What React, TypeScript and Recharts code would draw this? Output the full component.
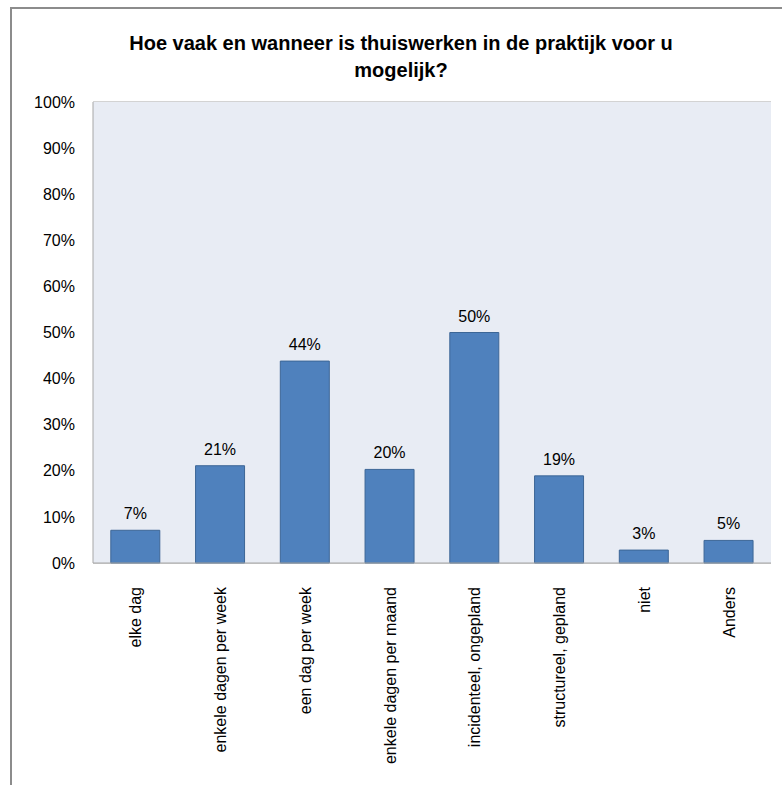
import React from "react";
import { BarChart, Bar, XAxis, YAxis, CartesianGrid, LabelList } from "recharts";

const categories = [
  "elke dag",
  "enkele dagen per week",
  "een dag per week",
  "enkele dagen per maand",
  "incidenteel, ongepland",
  "structureel, gepland",
  "niet",
  "Anders",
];
const percentages = [7.1, 21.1, 43.8, 20.3, 50, 18.9, 2.8, 4.9];
const yTicks = [0, 10, 20, 30, 40, 50, 60, 70, 80, 90, 100];
const titleLines = ["Hoe vaak en wanneer is thuiswerken in de praktijk voor u", "mogelijk?"];

const chartData = categories.map((name, i) => ({ name, value: percentages[i] }));

const FONT = "'Liberation Sans', Arial, sans-serif";

function CategoryTick(props: any) {
  const { x, y, payload } = props;
  return (
    <g transform={`translate(${x},${y})`}>
      <text
        transform="rotate(-90)"
        x={-16}
        y={0}
        dy={6}
        textAnchor="end"
        fontSize={16}
        fontFamily={FONT}
        fill="#000"
      >
        {payload.value}
      </text>
    </g>
  );
}

export default function App() {
  return (
    <div style={{ position: "absolute", left: 0, top: 0, width: 782, height: 785, overflow: "hidden", background: "#fff" }}>
      <div
        style={{
          position: "absolute",
          left: 10,
          top: 7,
          width: 800,
          height: 800,
          borderLeft: "2px solid #8c8c8c",
          borderTop: "2px solid #8c8c8c",
        }}
      />
      <div
        style={{
          position: "absolute",
          left: 10,
          top: 30,
          width: 782,
          textAlign: "center",
          fontFamily: FONT,
          fontWeight: "bold",
          fontSize: 20,
          lineHeight: "27px",
          color: "#000",
        }}
      >
        {titleLines.map((t) => (
          <div key={t}>{t}</div>
        ))}
      </div>
      <div style={{ position: "absolute", left: 0, top: 0 }}>
        <BarChart
          width={782}
          height={785}
          data={chartData}
          margin={{ top: 102, right: 11, left: 33, bottom: 22 }}
          barCategoryGap="21%"
        >
          <rect x={93} y={102} width={678} height={461} fill="#e8ecf4" />
          <CartesianGrid vertical={false} stroke="#a6a6a6" horizontalValues={yTicks} />
          <XAxis
            dataKey="name"
            interval={0}
            height={200}
            tick={<CategoryTick />}
            tickLine={false}
            axisLine={{ stroke: "#a6a6a6" }}
          />
          <YAxis
            width={60}
            domain={[0, 100]}
            ticks={yTicks}
            tickFormatter={(v: number) => `${v}%`}
            tick={{ fontSize: 16, fontFamily: FONT, fill: "#000" }}
            tickLine={false}
            axisLine={{ stroke: "#a6a6a6" }}
            tickMargin={12}
          />
          <Bar dataKey="value" fill="#4f81bd" stroke="#3c6696" strokeWidth={1} isAnimationActive={false}>
            <LabelList
              dataKey="value"
              position="top"
              offset={11}
              formatter={(v: any) => `${Math.round(Number(v))}%`}
              style={{ fontSize: 16, fontFamily: FONT, fill: "#000" }}
            />
          </Bar>
        </BarChart>
      </div>
    </div>
  );
}
